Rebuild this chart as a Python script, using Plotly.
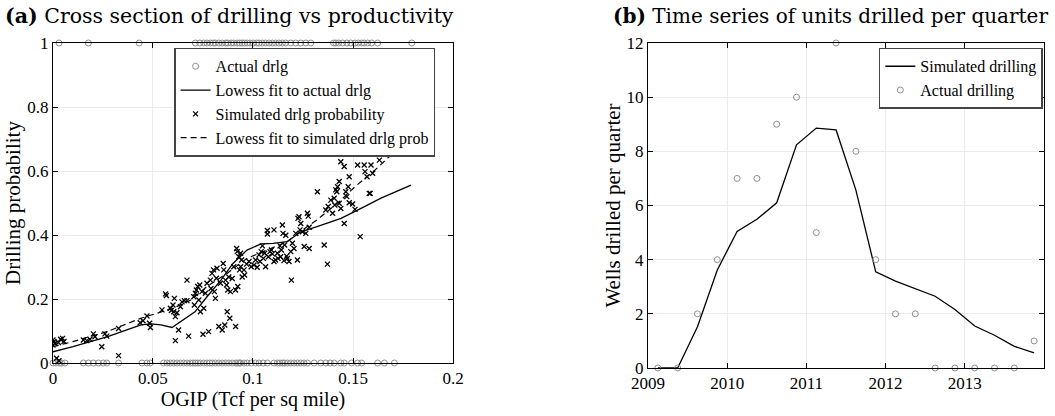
import plotly.graph_objects as go

# ---------------- Panel (a) data ----------------
sim_x = [0.001, 0.0005, 0.0, 0.0, 0.0027, 0.0038, 0.0048, 0.0055, 0.0018, 0.003,
         0.0152, 0.0169, 0.0185, 0.0202, 0.021, 0.0244, 0.026, 0.0269, 0.0328, 0.0328,
         0.0436, 0.045, 0.047, 0.0483, 0.0487, 0.0545, 0.0563, 0.0567, 0.0587, 0.0592,
         0.06, 0.0607, 0.0604, 0.0612, 0.062, 0.0612, 0.0628, 0.0637, 0.0645, 0.0657,
         0.067, 0.067, 0.0678, 0.0704, 0.0707, 0.0712, 0.0717, 0.0724, 0.0729, 0.0734,
         0.0737, 0.0745, 0.0754, 0.075, 0.0762, 0.077, 0.0778, 0.0787, 0.079, 0.0795,
         0.0803, 0.0807, 0.0812, 0.0817, 0.082, 0.0829, 0.0837, 0.0846, 0.0851, 0.0854,
         0.0859, 0.0863, 0.0868, 0.0871, 0.0874, 0.0879, 0.0884, 0.0887, 0.0896, 0.0904,
         0.0913, 0.0913, 0.0918, 0.0921, 0.0924, 0.0929, 0.0933, 0.0938, 0.0938, 0.0943,
         0.0946, 0.0955, 0.0958, 0.0968, 0.098, 0.0991, 0.1005, 0.1013, 0.1021, 0.103,
         0.1035, 0.1041, 0.1047, 0.1052, 0.1058, 0.1063, 0.1072, 0.1072, 0.1077, 0.1085,
         0.1092, 0.1097, 0.1105, 0.1105, 0.1113, 0.1122, 0.1125, 0.1135, 0.1138, 0.1142,
         0.1147, 0.115, 0.1155, 0.1158, 0.1164, 0.1168, 0.1172, 0.118, 0.1189, 0.1192,
         0.1197, 0.1205, 0.1214, 0.1222, 0.1225, 0.123, 0.1235, 0.1239, 0.1247, 0.1256,
         0.1264, 0.1272, 0.1276, 0.1281, 0.1281, 0.1322, 0.1356, 0.1364, 0.1372, 0.1376,
         0.1389, 0.1398, 0.1406, 0.1409, 0.1419, 0.1431, 0.1439, 0.1456, 0.1469, 0.1481,
         0.1498, 0.151, 0.1536, 0.1586,
         0.1414, 0.1423, 0.1431, 0.1439, 0.1456, 0.1464, 0.1476, 0.1481, 0.1523, 0.1548,
         0.1556, 0.156, 0.157, 0.1581, 0.159, 0.1598, 0.1623, 0.1627, 0.1632, 0.1665,
         0.1682, 0.1715, 0.179]
sim_y = [0.061, 0.067, 0.056, 0.072, 0.064, 0.074, 0.077, 0.067, 0.015, 0.007,
         0.072, 0.07, 0.074, 0.091, 0.082, 0.051, 0.091, 0.084, 0.108, 0.023,
         0.126, 0.132, 0.147, 0.124, 0.111, 0.166, 0.216, 0.211, 0.171, 0.164,
         0.181, 0.202, 0.16, 0.145, 0.157, 0.07, 0.103, 0.176, 0.191, 0.195,
         0.195, 0.259, 0.084, 0.207, 0.181, 0.218, 0.228, 0.239, 0.197, 0.244,
         0.16, 0.223, 0.171, 0.09, 0.218, 0.249, 0.098, 0.259, 0.233, 0.28,
         0.291, 0.223, 0.202, 0.265, 0.296, 0.114, 0.249, 0.103, 0.311, 0.291,
         0.119, 0.259, 0.244, 0.16, 0.228, 0.269, 0.14, 0.223, 0.264, 0.301,
         0.114, 0.228, 0.358, 0.348, 0.239, 0.332, 0.291, 0.343, 0.301, 0.322,
         0.269, 0.291, 0.275, 0.309, 0.317, 0.301, 0.306, 0.322, 0.299, 0.338,
         0.317, 0.348, 0.366, 0.327, 0.343, 0.301, 0.414, 0.403, 0.332, 0.348,
         0.353, 0.341, 0.416, 0.317, 0.322, 0.343, 0.327, 0.366, 0.332, 0.353,
         0.431, 0.405, 0.32, 0.369, 0.399, 0.334, 0.327, 0.317, 0.348, 0.259,
         0.374, 0.358, 0.405, 0.322, 0.452, 0.457, 0.416, 0.436, 0.41, 0.364,
         0.405, 0.468, 0.459, 0.358, 0.424, 0.535, 0.369, 0.478, 0.309, 0.489,
         0.509, 0.468, 0.515, 0.494, 0.535, 0.499, 0.483, 0.436, 0.52, 0.501,
         0.497, 0.48, 0.395, 0.53,
         0.541, 0.551, 0.567, 0.629, 0.614, 0.535, 0.551, 0.582, 0.619, 0.664,
         0.619, 0.598, 0.582, 0.53, 0.619, 0.593, 0.707, 0.66, 0.634, 0.676,
         0.66, 0.668, 0.676]

act1_x = [0.003, 0.0177, 0.0431, 0.0712, 0.0734, 0.0754, 0.077, 0.0787, 0.0801, 0.0812,
          0.0829, 0.0846, 0.0863, 0.0874, 0.0891, 0.0904, 0.0921, 0.0934, 0.0946, 0.0958,
          0.0971, 0.0985, 0.1001, 0.1018, 0.103, 0.1046, 0.1063, 0.108, 0.1097, 0.1113,
          0.113, 0.1147, 0.1163, 0.1189, 0.1214, 0.1239, 0.1264, 0.1289, 0.1403, 0.1414,
          0.1428, 0.1448, 0.1469, 0.1489, 0.151, 0.1526, 0.1543, 0.1556, 0.1573, 0.1593,
          0.1623, 0.1794]
act0_x = [0.0, 0.0015, 0.0032, 0.0043, 0.006, 0.0152, 0.0177, 0.0202, 0.0227, 0.0252,
          0.0269, 0.0328, 0.0445, 0.047, 0.0486, 0.0553, 0.057, 0.0587, 0.0603, 0.062,
          0.0637, 0.0654, 0.067, 0.0687, 0.07, 0.0712, 0.0724, 0.0737, 0.0754, 0.077,
          0.0784, 0.0796, 0.0812, 0.0829, 0.0846, 0.0863, 0.0879, 0.0896, 0.0913, 0.0924,
          0.0933, 0.0938, 0.0955, 0.0971, 0.0991, 0.1013, 0.103, 0.1051, 0.1072, 0.1105,
          0.1122, 0.1135, 0.1148, 0.1158, 0.1172, 0.1189, 0.1205, 0.1222, 0.1239, 0.1255,
          0.1272, 0.1306, 0.1339, 0.1364, 0.1386, 0.1406, 0.1439, 0.1456, 0.1493, 0.1523,
          0.1543, 0.1623, 0.1657, 0.1707]
act_x = act1_x + act0_x
act_y = [1] * len(act1_x) + [0] * len(act0_x)

low_act_x = [0.0, 0.010, 0.027, 0.044, 0.049, 0.054, 0.0595, 0.065, 0.071, 0.077,
             0.084, 0.090, 0.097, 0.104, 0.110, 0.117, 0.124, 0.132, 0.144, 0.154,
             0.164, 0.179]
low_act_y = [0.035, 0.051, 0.082, 0.119, 0.122, 0.119, 0.111, 0.134, 0.160, 0.207,
             0.259, 0.311, 0.353, 0.372, 0.374, 0.379, 0.410, 0.426, 0.452, 0.483,
             0.515, 0.556]

low_sim_x = [0.0, 0.010, 0.027, 0.044, 0.060, 0.069, 0.077, 0.087, 0.097, 0.107,
             0.117, 0.127, 0.132, 0.144, 0.151, 0.161, 0.169, 0.179]
low_sim_y = [0.051, 0.067, 0.098, 0.140, 0.171, 0.197, 0.239, 0.280, 0.327, 0.353,
             0.379, 0.426, 0.447, 0.509, 0.551, 0.603, 0.650, 0.697]

# ---------------- Panel (b) data ----------------
quarters = [2009.125, 2009.375, 2009.625, 2009.875, 2010.125, 2010.375, 2010.625, 2010.875,
            2011.125, 2011.375, 2011.625, 2011.875, 2012.125, 2012.375, 2012.625, 2012.875,
            2013.125, 2013.375, 2013.625, 2013.875]
sim_drill = [0, 0, 1.52, 3.62, 5.04, 5.49, 6.1, 8.24, 8.86, 8.79,
             6.57, 3.55, 3.21, 2.94, 2.65, 2.16, 1.55, 1.21, 0.80, 0.56]
act_drill = [0, 0, 2, 4, 7, 7, 9, 10, 5, 12,
             8, 4, 2, 2, 0, 0, 0, 0, 0, 1]

FONT = "Liberation Serif"
TITLE_FONT = "DejaVu Serif"
GRAY = "#8f8f8f"

fig = go.Figure()

fig.add_trace(go.Scatter(x=act_x, y=act_y, mode="markers", name="Actual drlg",
                         marker=dict(symbol="circle-open", size=6, color=GRAY, line=dict(width=1)),
                         cliponaxis=False, xaxis="x", yaxis="y", legend="legend"))
fig.add_trace(go.Scatter(x=low_act_x, y=low_act_y, mode="lines", name="Lowess fit to actual drlg",
                         line=dict(color="black", width=1.3), xaxis="x", yaxis="y", legend="legend"))
fig.add_trace(go.Scatter(x=sim_x, y=sim_y, mode="markers", name="Simulated drlg probability",
                         marker=dict(symbol="x-thin-open", size=5, color="black", line=dict(width=1.3, color="black")),
                         xaxis="x", yaxis="y", legend="legend"))
fig.add_trace(go.Scatter(x=low_sim_x, y=low_sim_y, mode="lines", name="Lowess fit to simulated drlg prob",
                         line=dict(color="black", width=1.2, dash="6px,4px"), xaxis="x", yaxis="y", legend="legend"))

fig.add_trace(go.Scatter(x=quarters, y=sim_drill, mode="lines", name="Simulated drilling",
                         line=dict(color="black", width=1.3), xaxis="x2", yaxis="y2", legend="legend2"))
fig.add_trace(go.Scatter(x=quarters, y=act_drill, mode="markers", name="Actual drilling",
                         marker=dict(symbol="circle-open", size=6, color=GRAY, line=dict(width=1)),
                         cliponaxis=False, xaxis="x2", yaxis="y2", legend="legend2"))

axis_common = dict(showline=True, linecolor="black", linewidth=1, mirror="ticks",
                   ticks="inside", ticklen=5, tickcolor="black", showgrid=True,
                   gridcolor="#ebebeb", gridwidth=1, zeroline=False, automargin=False,
                   tickfont=dict(family=FONT, size=17, color="black"))

fig.update_layout(
    width=1055, height=416,
    margin=dict(l=0, r=0, t=0, b=0),
    paper_bgcolor="white", plot_bgcolor="white",
    font=dict(family=FONT, color="black"),
    xaxis=dict(domain=[0.0502, 0.4294], range=[0, 0.2], tickvals=[0, 0.05, 0.1, 0.15, 0.2],
               ticktext=["0", "0.05", "0.1", "0.15", "0.2"], anchor="y",
               title=dict(text="OGIP (Tcf per sq mile)", font=dict(family=FONT, size=20), standoff=2),
               **axis_common),
    yaxis=dict(domain=[0.1274, 0.8966], range=[0, 1], tickvals=[0, 0.2, 0.4, 0.6, 0.8, 1],
               ticktext=["0", "0.2", "0.4", "0.6", "0.8", "1"], anchor="x",
               title=dict(text="Drilling probability", font=dict(family=FONT, size=21), standoff=0),
               **axis_common),
    xaxis2=dict(domain=[0.6142, 0.9896], range=[2009, 2014], tickvals=[2009, 2010, 2011, 2012, 2013],
                ticktext=["2009", "2010", "2011", "2012", "2013"], anchor="y2",
                **axis_common),
    yaxis2=dict(domain=[0.1154, 0.8966], range=[0, 12], tickvals=[0, 2, 4, 6, 8, 10, 12],
                anchor="x2",
                title=dict(text="Wells drilled per quarter", font=dict(family=FONT, size=21), standoff=0),
                **axis_common),
    legend=dict(x=0.165, y=0.885, xanchor="left", yanchor="top",
                bgcolor="white", bordercolor="#444444", borderwidth=1.5,
                font=dict(family=FONT, size=16), itemwidth=30, tracegroupgap=0),
    legend2=dict(x=0.833, y=0.885, xanchor="left", yanchor="top",
                 bgcolor="white", bordercolor="#444444", borderwidth=1.5,
                 font=dict(family=FONT, size=16), itemwidth=30, tracegroupgap=0),
    annotations=[
        dict(text="<b>(a)</b> Cross section of drilling vs productivity", x=0.003, y=0.962,
             xref="paper", yref="paper", xanchor="left", yanchor="middle", showarrow=False,
             font=dict(family=TITLE_FONT, size=20.5, color="black")),
        dict(text="<b>(b)</b> Time series of units drilled per quarter", x=0.579, y=0.962,
             xref="paper", yref="paper", xanchor="left", yanchor="middle", showarrow=False,
             font=dict(family=TITLE_FONT, size=20, color="black")),
    ],
)

fig.write_html("out.html")
